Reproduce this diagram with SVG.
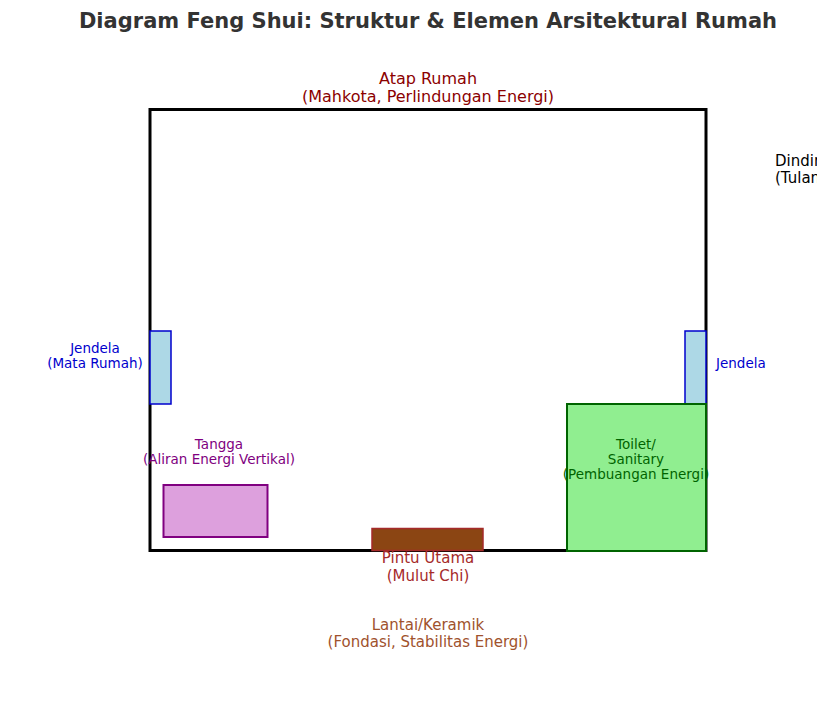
<svg xmlns="http://www.w3.org/2000/svg" width="817" height="709" viewBox="0 0 817 709">
<style>
text{font-family:"DejaVu Sans","Liberation Sans",sans-serif;text-anchor:middle}
.title{font-size:21px;font-weight:bold;fill:#333333}
.l16{font-size:16px}
.l15{font-size:15px}
.l13{font-size:13.5px}
</style>
<rect width="817" height="709" fill="#ffffff"/>
<text class="title" x="428" y="28">Diagram Feng Shui: Struktur &amp; Elemen Arsitektural Rumah</text>
<g id="house">
<rect x="150" y="109.5" width="556" height="441" fill="none" stroke="#000000" stroke-width="3"/>
</g>
<g id="atap">
<text class="l16" x="428" y="84" fill="#8b0000">Atap Rumah</text>
<text class="l16" x="428" y="102" fill="#8b0000">(Mahkota, Perlindungan Energi)</text>
</g>
<g id="dinding">
<text class="l15" x="775" y="166" fill="#000000" style="text-anchor:start">Dinding</text>
<text class="l15" x="775" y="183" fill="#000000" style="text-anchor:start">(Tulang Punggung)</text>
</g>
<g id="jendela-kiri">
<rect x="150" y="331" width="21" height="73" fill="#add8e6" stroke="#0000cd" stroke-width="1.5"/>
<text class="l13" x="95" y="353" fill="#0000cd">Jendela</text>
<text class="l13" x="95" y="368" fill="#0000cd">(Mata Rumah)</text>
</g>
<g id="jendela-kanan">
<rect x="685" y="331" width="21" height="73" fill="#add8e6" stroke="#0000cd" stroke-width="1.5"/>
<text class="l13" x="716" y="368" fill="#0000cd" style="text-anchor:start">Jendela</text>
</g>
<g id="toilet">
<rect x="567" y="404" width="139" height="147" fill="#90ee90" stroke="#006400" stroke-width="2"/>
<text class="l13" x="636" y="449" fill="#006400">Toilet/</text>
<text class="l13" x="636" y="464" fill="#006400">Sanitary</text>
<text class="l13" x="636" y="479" fill="#006400">(Pembuangan Energi)</text>
</g>
<g id="tangga">
<rect x="163.5" y="485" width="104" height="52" fill="#dda0dd" stroke="#800080" stroke-width="2"/>
<text class="l13" x="219" y="449" fill="#800080">Tangga</text>
<text class="l13" x="219" y="464" fill="#800080">(Aliran Energi Vertikal)</text>
</g>
<g id="pintu">
<text class="l15" x="428" y="563" fill="#a52a2a">Pintu Utama</text>
<text class="l15" x="428" y="581" fill="#a52a2a">(Mulut Chi)</text>
<rect x="372" y="528.5" width="111" height="22" fill="#8b4513" stroke="#a52a2a" stroke-width="1.5"/>
</g>
<g id="lantai">
<text class="l15" x="428" y="630" fill="#a0522d">Lantai/Keramik</text>
<text class="l15" x="428" y="647" fill="#a0522d">(Fondasi, Stabilitas Energi)</text>
</g>
<g id="connectors"></g>
</svg>
